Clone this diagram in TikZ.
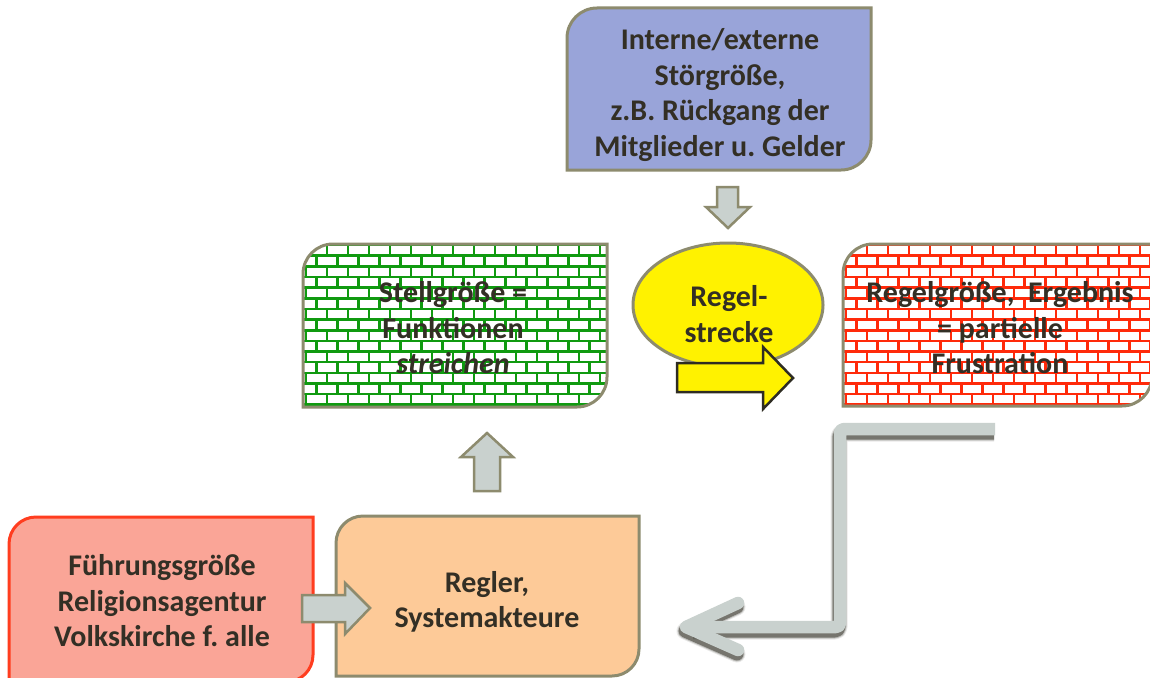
\documentclass[tikz,border=0pt]{standalone}
\usepackage{fontspec}
\setmainfont{Carlito}
\usetikzlibrary{shapes.geometric}
\frenchspacing

% box with rounded top-left and bottom-right corners (y axis points down)
\newcommand\tbpath[5]{(#1,#4) -- (#1,#2+#5) arc[start angle=180,end angle=270,radius=#5] -- (#3,#2) -- (#3,#4-#5) arc[start angle=0,end angle=90,radius=#5] -- cycle}

% brick wall: x1 y1 x2 y2 mortar colour
\newcommand\brickwall[5]{%
  \foreach \r in {0,...,16} {
    \pgfmathsetmacro\yy{#2+1+\r*10.65}
    \pgfmathsetmacro\yn{\yy+10.65}
    \draw[#5, line width=2.6pt] (#1,\yy) -- (#3,\yy);
    \pgfmathsetmacro\off{mod(\r,2)*10.5}
    \foreach \c in {0,...,15} {
      \pgfmathsetmacro\xx{#1+3+\off+\c*21}
      \draw[#5, line width=2.6pt] (\xx,\yy) -- (\xx,\yn);
    }
  }}

\definecolor{edge}{HTML}{8D8B6E}
\definecolor{bluefill}{HTML}{99A4D9}
\definecolor{salmon}{HTML}{FAA597}
\definecolor{salmonedge}{HTML}{FF3D1F}
\definecolor{peach}{HTML}{FDCA98}
\definecolor{arrowgray}{HTML}{C9D1CE}
\definecolor{mortargreen}{HTML}{109A10}
\definecolor{mortarred}{HTML}{FF2A0A}
\definecolor{ink}{HTML}{332F25}
\definecolor{darkshadow}{HTML}{2E2C22}

\begin{document}
\begin{tikzpicture}[x=1pt,y=-1pt,
  boxline/.style={draw=edge, line width=3pt},
  blockarrow/.style={fill=arrowgray, draw=edge, line width=2.5pt, line join=miter},
  label/.style={font=\bfseries\fontsize{30}{35.5}\selectfont, text=ink, align=center, inner sep=0pt},
  feedback/.style={arrowgray, line width=12.5pt},
]
\useasboundingbox (0,0) rectangle (1150,677);
\fill[white] (0,0) rectangle (1150,677);

% disturbance box
\filldraw[fill=bluefill, boxline] \tbpath{567}{8}{871}{170}{30};
\node[label] (stoer) at (720,95) {Interne/externe\\Störgröße,\\z.B. Rückgang der\\Mitglieder u. Gelder};

% actuating variable (green brick wall)
\begin{scope}
  \clip \tbpath{303}{244}{607}{407}{30};
  \fill[white] (303,244) rectangle (607,407);
  \brickwall{303}{244}{607}{407}{mortargreen}
\end{scope}
\draw[boxline] \tbpath{303}{244}{607}{407}{30};
\node[label] (stell) at (453,328) {Stellgröße =\\Funktionen\\\textit{streichen}};

% controlled variable (red brick wall)
\begin{scope}
  \clip \tbpath{843}{244}{1152}{406}{30};
  \fill[white] (843,244) rectangle (1152,406);
  \brickwall{843}{244}{1152}{406}{mortarred}
\end{scope}
\draw[boxline] \tbpath{843}{244}{1152}{406}{30};
\node[label] (regelgr) at (1000,328) {Regelgröße,\ \ Ergebnis\\= partielle\\Frustration};

% controlled system
\node[ellipse, draw=edge, line width=3pt, fill=yellow, minimum width=190pt, minimum height=124pt, inner sep=0pt] (strecke) at (728,305) {};
\node[label] (streckelbl) at (729,314) {Regel-\\strecke};
\filldraw[fill=yellow, draw=darkshadow, line width=2.5pt, line join=miter]
  (677,363) -- (763,363) -- (763,347) -- (793,378) -- (763,409) -- (763,392) -- (677,392) -- cycle;

% disturbance acts on the system
\filldraw[blockarrow] (717,187) -- (738,187) -- (738,207) -- (750,207) -- (728,228) -- (706,207) -- (717,207) -- cycle;

% reference variable box
\filldraw[fill=salmon, draw=salmonedge, line width=3pt] \tbpath{9}{517}{313}{682}{27};
\node[label] (fuehr) at (162,601) {Führungsgröße\\Religionsagentur\\Volkskirche f. alle};

% controller box
\filldraw[fill=peach, boxline] \tbpath{336}{516}{639}{676}{27};
\node[label] (regler) at (487,602) {Regler,\\Systemakteure};

% reference -> controller
\filldraw[blockarrow] (302,595) -- (345,595) -- (345,583) -- (370,608) -- (345,634) -- (345,622) -- (302,622) -- cycle;

% controller -> actuating variable
\filldraw[blockarrow] (474,491) -- (474,457) -- (461,457) -- (487,433) -- (513,457) -- (500,457) -- (500,491) -- cycle;

% feedback path
\coordinate (fbStart) at (995,429);
\coordinate (fbCornerA) at (840,429);
\coordinate (fbCornerB) at (840,627);
\coordinate (fbTip) at (686,627);
\coordinate (fbEnd) at (694,627);
\coordinate (fbArmA) at (738,603);
\coordinate (fbArmB) at (738,650);
\foreach \w/\o in {17/0.10,15/0.22,13/0.5} {
  \draw[darkshadow, opacity=\o, line width=\w pt, rounded corners=4pt, line join=round]
    ([shift={(-1,4)}]fbStart) -- ([shift={(-1,4)}]fbCornerA) -- ([shift={(-1,4)}]fbCornerB) -- ([shift={(-1,4)}]fbEnd);
  \draw[darkshadow, opacity=\o, line width=\w pt, line cap=round, line join=round]
    ([shift={(-1,4)}]fbArmA) -- ([shift={(-1,4)}]fbTip) -- ([shift={(-1,4)}]fbArmB);
}
\draw[feedback, rounded corners=4pt, line join=round] (fbStart) -- (fbCornerA) -- (fbCornerB) -- (fbEnd);
\draw[feedback, line cap=round, line join=round] (fbArmA) -- (fbTip) -- (fbArmB);
\end{tikzpicture}
\end{document}
